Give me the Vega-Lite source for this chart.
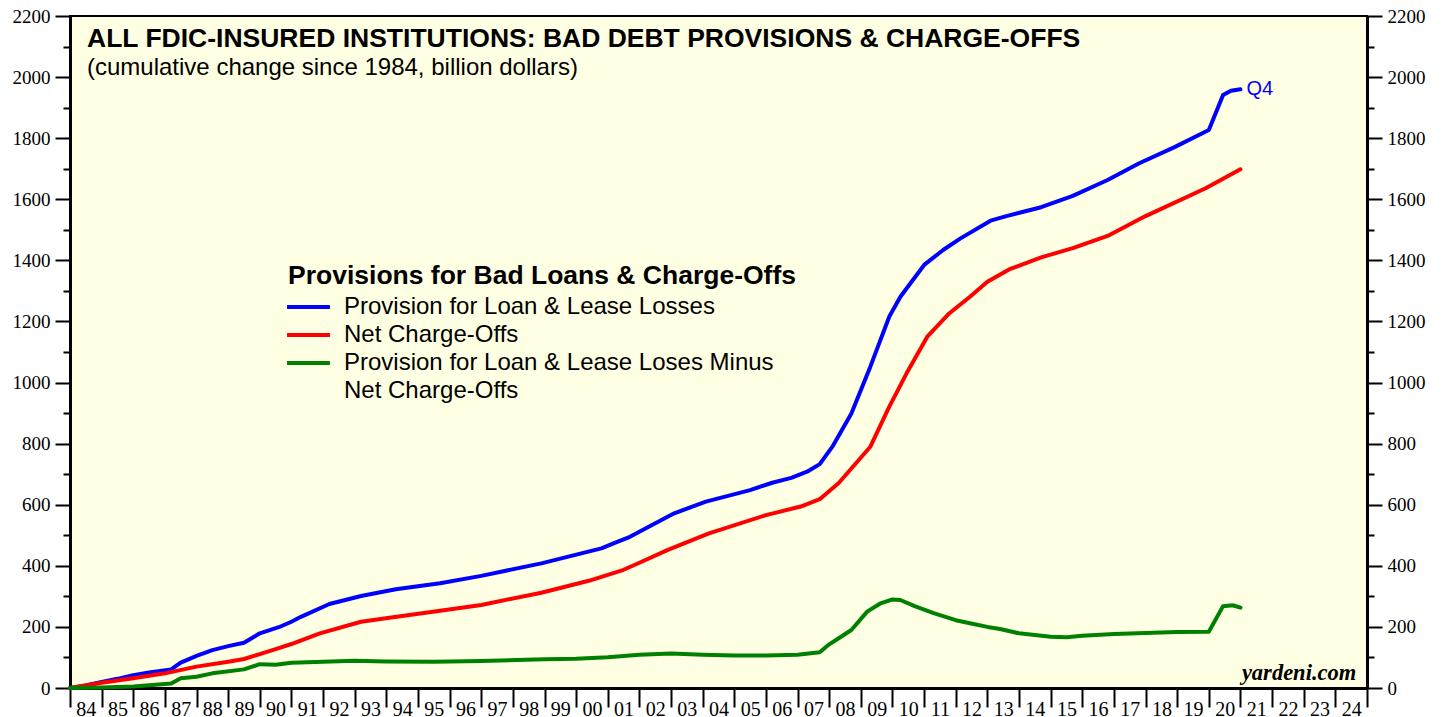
{
  "$schema": "https://vega.github.io/schema/vega-lite/v6.json",
  "width": 1297,
  "height": 672,
  "autosize": {"type": "none"},
  "padding": {"left": 70, "top": 16, "right": 81, "bottom": 29},
  "background": "white",
  "config": {
    "view": {"fill": "#FFFFE3", "stroke": "black", "strokeWidth": 2},
    "axis": {"labelFont": "Liberation Serif", "labelFontSize": 19, "labelColor": "black", "tickColor": "black", "domainColor": "black", "domainWidth": 3, "tickWidth": 2, "grid": false, "title": null, "labelOverlap": false, "labelBound": false, "labelFlush": false}
  },
  "title": {
    "text": "ALL FDIC-INSURED INSTITUTIONS: BAD DEBT PROVISIONS & CHARGE-OFFS",
    "subtitle": "(cumulative change since 1984, billion dollars)",
    "anchor": "start", "frame": "group", "dx": 17, "dy": 77,
    "font": "Liberation Sans", "fontSize": 26.5, "fontWeight": "bold", "color": "black",
    "subtitleFont": "Liberation Sans", "subtitleFontSize": 24, "subtitleColor": "black", "subtitlePadding": 4
  },
  "datasets": {
    "main": [
      {"s":"A","t":1984.0,"v":0},{"s":"A","t":1984.5,"v":8},{"s":"A","t":1985.0,"v":20},{"s":"A","t":1985.5,"v":30},{"s":"A","t":1986.0,"v":42},{"s":"A","t":1986.5,"v":51},{"s":"A","t":1987.2,"v":61},{"s":"A","t":1987.5,"v":83},{"s":"A","t":1988.0,"v":105},{"s":"A","t":1988.5,"v":124},{"s":"A","t":1989.0,"v":137},{"s":"A","t":1989.5,"v":148},{"s":"A","t":1990.0,"v":179},{"s":"A","t":1990.6,"v":199},{"s":"A","t":1991.0,"v":217},{"s":"A","t":1991.3,"v":233},{"s":"A","t":1992.2,"v":275},{"s":"A","t":1993.2,"v":301},{"s":"A","t":1994.3,"v":323},{"s":"A","t":1995.7,"v":343},{"s":"A","t":1997.0,"v":367},{"s":"A","t":1998.9,"v":408},{"s":"A","t":2000.1,"v":439},{"s":"A","t":2000.8,"v":457},{"s":"A","t":2001.2,"v":474},{"s":"A","t":2001.7,"v":495},{"s":"A","t":2003.1,"v":572},{"s":"A","t":2004.1,"v":610},{"s":"A","t":2005.5,"v":648},{"s":"A","t":2006.2,"v":672},{"s":"A","t":2006.8,"v":688},{"s":"A","t":2007.3,"v":708},{"s":"A","t":2007.7,"v":733},{"s":"A","t":2008.1,"v":790},{"s":"A","t":2008.7,"v":899},{"s":"A","t":2009.3,"v":1052},{"s":"A","t":2009.9,"v":1216},{"s":"A","t":2010.25,"v":1281},{"s":"A","t":2011.0,"v":1385},{"s":"A","t":2011.6,"v":1434},{"s":"A","t":2012.15,"v":1472},{"s":"A","t":2013.1,"v":1530},{"s":"A","t":2013.6,"v":1545},{"s":"A","t":2014.7,"v":1574},{"s":"A","t":2015.7,"v":1611},{"s":"A","t":2016.8,"v":1663},{"s":"A","t":2017.8,"v":1718},{"s":"A","t":2018.9,"v":1770},{"s":"A","t":2020.0,"v":1827},{"s":"A","t":2020.45,"v":1941},{"s":"A","t":2020.7,"v":1955},{"s":"A","t":2021.0,"v":1960},
      {"s":"B","t":1984.0,"v":0},{"s":"B","t":1985.0,"v":17},{"s":"B","t":1986.0,"v":32},{"s":"B","t":1987.0,"v":48},{"s":"B","t":1988.0,"v":70},{"s":"B","t":1989.0,"v":86},{"s":"B","t":1989.5,"v":95},{"s":"B","t":1990.0,"v":111},{"s":"B","t":1990.5,"v":127},{"s":"B","t":1991.0,"v":144},{"s":"B","t":1991.9,"v":179},{"s":"B","t":1993.2,"v":217},{"s":"B","t":1994.1,"v":230},{"s":"B","t":1995.7,"v":253},{"s":"B","t":1997.0,"v":272},{"s":"B","t":1998.9,"v":312},{"s":"B","t":2000.4,"v":351},{"s":"B","t":2001.5,"v":387},{"s":"B","t":2002.0,"v":410},{"s":"B","t":2002.9,"v":452},{"s":"B","t":2004.2,"v":506},{"s":"B","t":2006.0,"v":566},{"s":"B","t":2007.1,"v":594},{"s":"B","t":2007.7,"v":618},{"s":"B","t":2008.3,"v":671},{"s":"B","t":2009.3,"v":790},{"s":"B","t":2009.9,"v":921},{"s":"B","t":2010.45,"v":1031},{"s":"B","t":2011.1,"v":1150},{"s":"B","t":2011.8,"v":1227},{"s":"B","t":2012.45,"v":1281},{"s":"B","t":2013.0,"v":1330},{"s":"B","t":2013.7,"v":1371},{"s":"B","t":2014.7,"v":1410},{"s":"B","t":2015.7,"v":1440},{"s":"B","t":2016.8,"v":1480},{"s":"B","t":2018.0,"v":1545},{"s":"B","t":2019.9,"v":1636},{"s":"B","t":2021.0,"v":1698},
      {"s":"C","t":1984.0,"v":0},{"s":"C","t":1985.0,"v":2},{"s":"C","t":1986.0,"v":5},{"s":"C","t":1987.2,"v":15},{"s":"C","t":1987.5,"v":32},{"s":"C","t":1988.0,"v":37},{"s":"C","t":1988.5,"v":48},{"s":"C","t":1989.5,"v":61},{"s":"C","t":1990.0,"v":78},{"s":"C","t":1990.5,"v":76},{"s":"C","t":1991.0,"v":83},{"s":"C","t":1992.0,"v":86},{"s":"C","t":1993.0,"v":89},{"s":"C","t":1994.0,"v":87},{"s":"C","t":1995.5,"v":86},{"s":"C","t":1997.0,"v":88},{"s":"C","t":1999.0,"v":94},{"s":"C","t":2000.0,"v":96},{"s":"C","t":2001.0,"v":101},{"s":"C","t":2002.0,"v":109},{"s":"C","t":2003.0,"v":113},{"s":"C","t":2004.0,"v":109},{"s":"C","t":2005.0,"v":106},{"s":"C","t":2006.0,"v":106},{"s":"C","t":2007.0,"v":109},{"s":"C","t":2007.7,"v":117},{"s":"C","t":2008.0,"v":143},{"s":"C","t":2008.3,"v":163},{"s":"C","t":2008.7,"v":190},{"s":"C","t":2009.2,"v":250},{"s":"C","t":2009.6,"v":276},{"s":"C","t":2010.0,"v":290},{"s":"C","t":2010.25,"v":288},{"s":"C","t":2010.7,"v":268},{"s":"C","t":2011.3,"v":245},{"s":"C","t":2012.0,"v":222},{"s":"C","t":2012.45,"v":212},{"s":"C","t":2013.0,"v":200},{"s":"C","t":2013.4,"v":193},{"s":"C","t":2014.0,"v":179},{"s":"C","t":2015.0,"v":168},{"s":"C","t":2015.5,"v":166},{"s":"C","t":2016.0,"v":171},{"s":"C","t":2017.0,"v":177},{"s":"C","t":2018.0,"v":180},{"s":"C","t":2019.0,"v":183},{"s":"C","t":2020.0,"v":184},{"s":"C","t":2020.45,"v":268},{"s":"C","t":2020.75,"v":271},{"s":"C","t":2021.0,"v":263}
    ]
  },
  "resolve": {"axis": {"y": "independent", "x": "independent"}},
  "layer": [
    {
      "data": {"name": "main"},
      "mark": {"type": "line", "strokeWidth": 4, "strokeJoin": "round", "strokeCap": "round"},
      "encoding": {
        "x": {"field": "t", "type": "quantitative", "scale": {"domain": [1984, 2025], "nice": false, "zero": false},
          "axis": {"orient": "bottom", "values": [1984,1984.5,1985,1985.5,1986,1986.5,1987,1987.5,1988,1988.5,1989,1989.5,1990,1990.5,1991,1991.5,1992,1992.5,1993,1993.5,1994,1994.5,1995,1995.5,1996,1996.5,1997,1997.5,1998,1998.5,1999,1999.5,2000,2000.5,2001,2001.5,2002,2002.5,2003,2003.5,2004,2004.5,2005,2005.5,2006,2006.5,2007,2007.5,2008,2008.5,2009,2009.5,2010,2010.5,2011,2011.5,2012,2012.5,2013,2013.5,2014,2014.5,2015,2015.5,2016,2016.5,2017,2017.5,2018,2018.5,2019,2019.5,2020,2020.5,2021,2021.5,2022,2022.5,2023,2023.5,2024,2024.5,2025],
            "tickSize": 19, "tickOpacity": {"condition": {"test": "datum.value % 1 === 0", "value": 1}, "value": 0},
            "labelExpr": "datum.value % 1 !== 0 ? ((floor(datum.value) % 100 < 10 ? '0' : '') + (floor(datum.value) % 100)) : ''",
            "labelPadding": -8, "labelFontSize": 20}},
        "y": {"field": "v", "type": "quantitative", "scale": {"domain": [0, 2200], "nice": false},
          "axis": {"orient": "left", "values": [0,100,200,300,400,500,600,700,800,900,1000,1100,1200,1300,1400,1500,1600,1700,1800,1900,2000,2100,2200],
            "tickSize": {"condition": {"test": "datum.value % 200 === 0", "value": 15}, "value": 7},
            "labelExpr": "datum.value % 200 === 0 ? datum.label : ''", "format": "d", "labelPadding": 5}},
        "color": {"field": "s", "type": "nominal",
          "scale": {"domain": ["A", "B", "C", "D"], "range": ["#0000FF", "#FF0000", "#008000", "transparent"]},
          "legend": {"orient": "none", "legendX": 218, "legendY": 247,
            "title": "Provisions for Bad Loans & Charge-Offs",
            "titleFont": "Liberation Sans", "titleFontSize": 26.5, "titleFontWeight": "bold", "titleColor": "black", "titlePadding": 2, "titleLimit": 900,
            "labelFont": "Liberation Sans", "labelFontSize": 24, "labelColor": "black", "labelLimit": 900, "labelOffset": 25,
            "labelExpr": "datum.value === 'A' ? 'Provision for Loan & Lease Losses' : datum.value === 'B' ? 'Net Charge-Offs' : datum.value === 'C' ? 'Provision for Loan & Lease Loses Minus' : 'Net Charge-Offs'",
            "symbolType": "M-1.22,0H1.96", "symbolStrokeWidth": 4, "symbolSize": 729, "rowPadding": 0}}
      }
    },
    {
      "data": {"values": [{"t": 2021.0, "v": 1960, "label": "Q4"}]},
      "mark": {"type": "text", "align": "left", "baseline": "middle", "dx": 6, "font": "Liberation Sans", "fontSize": 20, "color": "#0000FF"},
      "encoding": {
        "x": {"field": "t", "type": "quantitative", "axis": null},
        "y": {"field": "v", "type": "quantitative",
          "axis": {"orient": "right", "values": [0,100,200,300,400,500,600,700,800,900,1000,1100,1200,1300,1400,1500,1600,1700,1800,1900,2000,2100,2200],
            "tickSize": {"condition": {"test": "datum.value % 200 === 0", "value": 15}, "value": 7},
            "labelExpr": "datum.value % 200 === 0 ? datum.label : ''", "format": "d", "labelPadding": 5}},
        "text": {"field": "label"}
      }
    },
    {
      "data": {"values": [{"t": 2024.66, "v": 25, "label": "yardeni.com"}]},
      "mark": {"type": "text", "align": "right", "baseline": "alphabetic", "font": "Liberation Serif", "fontSize": 22.5, "fontWeight": "bold", "fontStyle": "italic", "color": "black"},
      "encoding": {
        "x": {"field": "t", "type": "quantitative", "axis": null},
        "y": {"field": "v", "type": "quantitative", "axis": null},
        "text": {"field": "label"}
      }
    }
  ]
}
